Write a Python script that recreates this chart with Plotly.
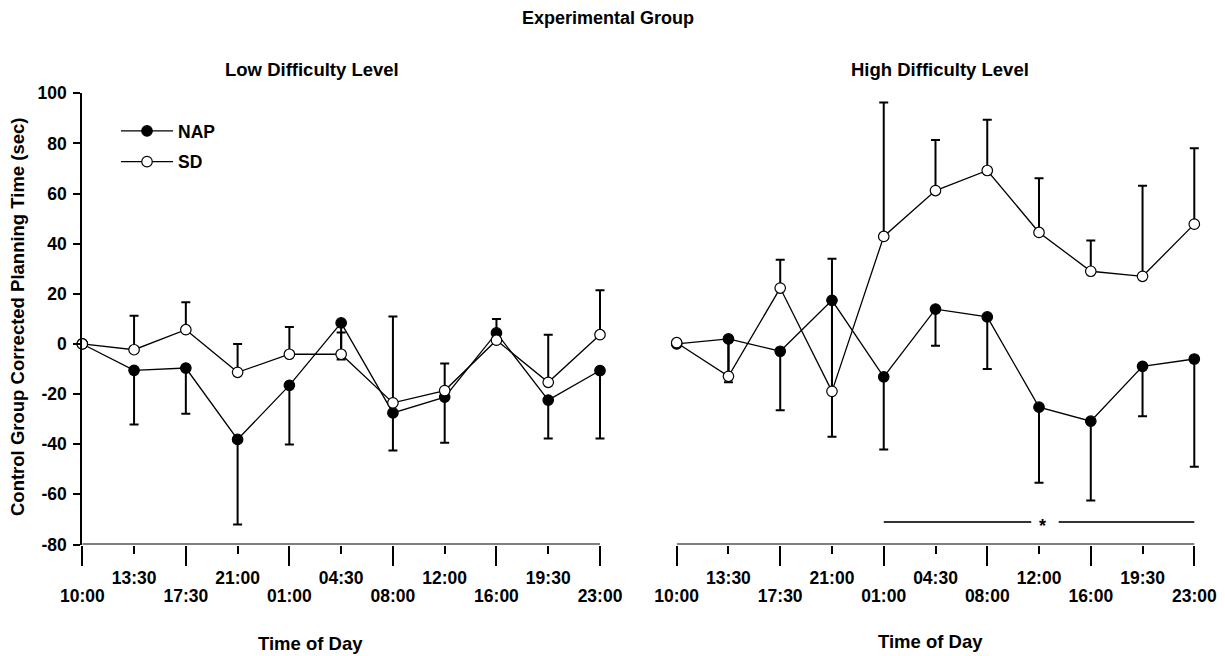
import plotly.graph_objects as go

# ---------------- data ----------------
times = ["10:00", "13:30", "17:30", "21:00", "01:00", "04:30",
         "08:00", "12:00", "16:00", "19:30", "23:00"]
idx = list(range(len(times)))

# Low difficulty level
low_nap = [0, -10.5, -9.6, -38.1, -16.5, 8.4, -27.5, -21.2, 4.4, -22.4, -10.6]
low_nap_err = [0, 21.6, 18.2, 33.9, 23.6, 14.6, 15.0, 18.2, 1.5, 15.3, 27.1]   # drawn downward
low_sd = [0, -2.3, 5.7, -11.3, -4.1, -4.1, -23.5, -18.6, 1.5, -15.3, 3.7]
low_sd_err = [0, 13.6, 10.9, 11.3, 10.9, 8.7, 34.5, 10.8, 8.5, 19.0, 17.7]     # drawn upward

# High difficulty level
high_nap = [0, 2.0, -2.9, 17.4, -13.1, 13.9, 10.8, -25.2, -30.8, -8.9, -6.0]
high_nap_err = [0, 17.3, 23.5, 54.4, 29.0, 14.6, 20.8, 30.2, 31.6, 19.9, 43.0]
high_sd = [0.5, -12.9, 22.3, -18.9, 42.9, 61.2, 69.2, 44.5, 29.0, 27.0, 47.8]
high_sd_err = [0, 14.0, 11.3, 52.9, 53.4, 20.2, 20.2, 21.6, 12.3, 36.1, 30.3]

# significance bar (high difficulty, 01:00 .. 23:00)
sig_x = [4, 6.85, None, 7.38, 10]
sig_y = [-71, -71, None, -71, -71]
sig_star_x = 7.07
sig_star_y = -71

y_ticks = list(range(-80, 101, 20))
y_ticktext = [str(v) for v in y_ticks]
y_range = [-80, 100]
x_first, x_last = 0, 10

# ---------------- figure ----------------
W, H = 1225, 656
FONT = "Liberation Sans, Arial, Helvetica, sans-serif"

def px_x(p):
    return p / W

def px_y(p):
    return 1 - p / H

fig = go.Figure()

mk = dict(size=10.5, line=dict(color="black", width=1.2))
ln = dict(color="black", width=1.3)

def add_pair(nap, nap_err, sd, sd_err, xa, ya, show):
    zeros = [0] * len(idx)
    fig.add_trace(go.Scatter(
        x=idx, y=nap, mode="lines+markers", name="NAP", legendgroup="nap",
        line=ln, marker=dict(color="black", **mk),
        error_y=dict(type="data", symmetric=False, array=zeros, arrayminus=nap_err,
                     color="black", thickness=2, width=4.5),
        xaxis=xa, yaxis=ya, showlegend=show, cliponaxis=False))
    fig.add_trace(go.Scatter(
        x=idx, y=sd, mode="lines+markers", name="SD", legendgroup="sd",
        line=ln, marker=dict(color="white", **mk),
        error_y=dict(type="data", symmetric=False, array=sd_err, arrayminus=zeros,
                     color="black", thickness=2, width=4.5),
        xaxis=xa, yaxis=ya, showlegend=show, cliponaxis=False))

add_pair(low_nap, low_nap_err, low_sd, low_sd_err, "x", "y", True)
add_pair(high_nap, high_nap_err, high_sd, high_sd_err, "x2", "y2", False)

fig.add_trace(go.Scatter(x=sig_x, y=sig_y, mode="lines", line=dict(color="#333333", width=2),
                         xaxis="x2", yaxis="y2", showlegend=False, hoverinfo="skip",
                         cliponaxis=False))

# empty traces so the overlaid (odd-label) axes get drawn
for xa, ya in (("x3", "y"), ("x4", "y2")):
    fig.add_trace(go.Scatter(x=[None], y=[None], mode="markers", xaxis=xa, yaxis=ya,
                             showlegend=False, hoverinfo="skip"))

# x axis baselines (axis line ends exactly at first/last tick)
for xr_, yr_ in (("x", "y"), ("x2", "y2")):
    fig.add_shape(type="line", xref=xr_, yref=yr_, x0=x_first, x1=x_last,
                  y0=y_range[0], y1=y_range[0], line=dict(color="black", width=2))

even = [i for i in idx if i % 2 == 0]
odd = [i for i in idx if i % 2 == 1]
tickfont = dict(family=FONT, size=17.5, color="black", weight="bold")

PAD = 0.1  # extra range so last error bar is not clipped
span = 600 - 82.3
xdom1 = [px_x(82.3), px_x(600 + span * PAD / 10)]
span2 = 1194.3 - 676.7
xdom2 = [px_x(676.7), px_x(1194.3 + span2 * PAD / 10)]
ydom = [px_y(544.5), px_y(93.3)]
xr = [x_first, x_last + PAD]

def xa_even(dom, anchor):
    return dict(domain=dom, range=xr, anchor=anchor, tickmode="array",
                tickvals=even, ticktext=[times[i] for i in even],
                ticks="outside", ticklen=20, tickwidth=2, tickcolor="black",
                showline=False, showgrid=False, zeroline=False, tickfont=tickfont,
                ticklabelstandoff=15, automargin=False, fixedrange=True)

def xa_odd(over, anchor):
    return dict(overlaying=over, range=xr, anchor=anchor, tickmode="array",
                tickvals=odd, ticktext=[times[i] for i in odd],
                ticks="outside", ticklen=8, tickwidth=1.5, tickcolor="black",
                showline=False, showgrid=False, zeroline=False, tickfont=tickfont,
                ticklabelstandoff=9, automargin=False, fixedrange=True)

fig.update_layout(
    width=W, height=H,
    margin=dict(l=0, r=0, t=0, b=0),
    paper_bgcolor="white", plot_bgcolor="white",
    font=dict(family=FONT, color="black"),
    xaxis=xa_even(xdom1, "y"),
    xaxis2=xa_even(xdom2, "y2"),
    xaxis3=xa_odd("x", "y"),
    xaxis4=xa_odd("x2", "y2"),
    yaxis=dict(domain=ydom, range=y_range, anchor="x", tickmode="array",
               tickvals=y_ticks, ticktext=y_ticktext, ticks="outside", ticklen=7,
               tickwidth=1.5, tickcolor="black", showline=True, linewidth=2,
               linecolor="black", showgrid=False, zeroline=False, tickfont=tickfont,
               ticklabelstandoff=3, automargin=False, fixedrange=True),
    yaxis2=dict(domain=ydom, range=y_range, anchor="x2", visible=False, fixedrange=True),
    showlegend=True,
    legend=dict(x=px_x(116), y=px_y(113), xanchor="left", yanchor="top",
                bgcolor="rgba(0,0,0,0)", itemwidth=52, tracegroupgap=5,
                traceorder="grouped",
                font=dict(family=FONT, size=17.5, color="black", weight="bold")),
)

def ann(text, x, y, size, ref=("paper", "paper"), angle=0, **kw):
    fig.add_annotation(text=text, x=x, y=y, xref=ref[0], yref=ref[1], showarrow=False,
                       textangle=angle, xanchor="center", yanchor="middle",
                       font=dict(family=FONT, size=size, color="black", weight="bold"), **kw)

ann("Experimental Group", px_x(608), px_y(18), 18)
ann("Low Difficulty Level", px_x(312), px_y(69), 18.5)
ann("High Difficulty Level", px_x(940), px_y(69), 18.5)
ann("Time of Day", px_x(310), px_y(643), 18.5)
ann("Time of Day", px_x(930), px_y(641), 18.5)
ann("Control Group Corrected Planning Time (sec)", px_x(18), px_y(317), 18.5, angle=-90)
ann("*", sig_star_x, sig_star_y, 18, ref=("x2", "y2"), yshift=-4)

fig.write_html("out.html", config={"displayModeBar": False},
               post_script="document.body.style.margin='0';document.body.style.overflow='hidden';")
